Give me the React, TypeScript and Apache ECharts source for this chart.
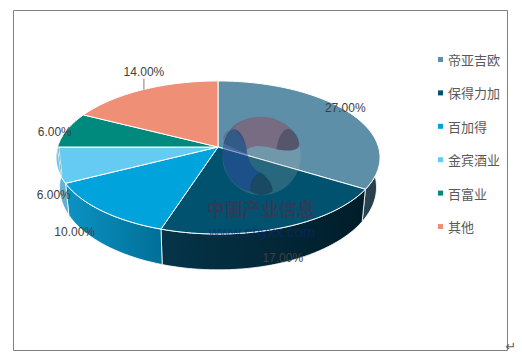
import React, { useEffect, useRef } from "react";
import * as echarts from "echarts";

const categories = ["帝亚吉欧", "保得力加", "百加得", "金宾酒业", "百富业", "其他"];
const shares = [27, 17, 10, 6, 6, 14];
const labels = ["27.00%", "17.00%", "10.00%", "6.00%", "6.00%", "14.00%"];
const topColors = ["#5E8FA8", "#00526F", "#00A3DC", "#66CBF2", "#008A7D", "#EF8F76"];
const sideStops = [
  ["#2C4755", "#263A45"],
  ["#053449", "#001D29"],
  ["#0C93C4", "#006F96"],
  ["#6CB8DC", "#5FA9CC"],
  ["#006A60", "#006A60"],
  ["#B86E5A", "#B86E5A"],
];
const labelOffsets = [
  [-4, -5],
  [1, 30],
  [-27, 21],
  [-3, 30],
  [-12, 2],
  [1, -18],
];

const total = shares.reduce((a, b) => a + b, 0);
const K = 0.137;
const CX = 218;
function topPoint(deg: number, t = 1) {
  const r = (deg * Math.PI) / 180;
  const u = Math.sin(r) * t;
  const v = Math.cos(r) * t;
  const w = 1 + K * v;
  return [CX + (160.5 * u) / w, 147 - (75.1 * v) / w];
}
function bottomPoint(deg: number) {
  const r = (deg * Math.PI) / 180;
  const u = Math.sin(r);
  const v = Math.cos(r);
  const w = 1 + K * v;
  return [CX + (157 * u) / w, 176 - (81 * v) / w];
}
function arc(fn: (d: number) => number[], a: number, b: number) {
  const pts: number[][] = [];
  const n = Math.max(2, Math.ceil((b - a) / 2));
  for (let i = 0; i <= n; i++) pts.push(fn(a + ((b - a) * i) / n));
  return pts;
}

const LOGO_CIRCLE = "M215 20 A118 118 0 1 1 214.9 20Z";
const LOGO_ARC =
  "M100 90 C120 40 170 20 215 20 C270 20 320 60 328 100 C330 120 300 125 260 118 C230 110 190 100 170 120 C165 90 140 55 125 58 C110 62 100 75 100 90Z";
const LOGO_BLUE =
  "M97 130 C100 90 115 58 130 58 C155 58 170 100 172 130 C178 165 195 180 212 188 C190 200 180 225 182 245 C130 235 100 190 97 130Z";
const LOGO_LOBE_L = "M100 100 C105 75 118 58 130 58 C150 58 168 95 170 130 C150 125 120 110 100 100Z";
const LOGO_LOBE_R = "M260 118 C262 85 280 55 295 56 C315 60 328 85 328 105 C325 125 290 125 260 118Z";
const LOGO_LOBE_B = "M182 245 C178 215 195 195 212 188 C232 200 250 225 248 245 C225 260 205 258 182 245Z";
echarts.graphic.registerShape("logoCircle", echarts.graphic.extendPath(LOGO_CIRCLE, {}));
echarts.graphic.registerShape("logoArc", echarts.graphic.extendPath(LOGO_ARC, {}));
echarts.graphic.registerShape("logoBlue", echarts.graphic.extendPath(LOGO_BLUE, {}));
echarts.graphic.registerShape("logoLobeL", echarts.graphic.extendPath(LOGO_LOBE_L, {}));
echarts.graphic.registerShape("logoLobeR", echarts.graphic.extendPath(LOGO_LOBE_R, {}));
echarts.graphic.registerShape("logoLobeB", echarts.graphic.extendPath(LOGO_LOBE_B, {}));

function logoPiece(type: string, fill: string) {
  return { type, x: 190, y: 110, scaleX: 1 / 3, scaleY: 1 / 3, z: 50, silent: true, style: { fill } };
}

function sliceRender(index: number) {
  return (_params: any, api: any) => {
    const value = api.value(0);
    let before = 0;
    for (let i = 0; i < index; i++) before += shares[i];
    const a0 = (before / total) * 360;
    const a1 = a0 + (value / total) * 360;
    const mid = (a0 + a1) / 2;
    const children: any[] = [];
    const sa = Math.max(a0, 88);
    const sb = Math.min(a1, 272);
    if (sb > sa) {
      const poly = [...arc(topPoint, sa, sb), ...arc(bottomPoint, sa, sb).reverse()];
      children.push({
        type: "polygon",
        shape: { points: poly },
        style: {
          fill: new echarts.graphic.LinearGradient(0, 0, 1, 0, [
            { offset: 0, color: sideStops[index][0] },
            { offset: 1, color: sideStops[index][1] },
          ]),
          stroke: "rgba(255,255,255,0.8)",
          lineWidth: 1,
        },
      });
    }
    children.push({
      type: "polygon",
      shape: { points: [topPoint(a0, 0), ...arc(topPoint, a0, a1)] },
      style: { fill: topColors[index], stroke: "#ffffff", lineWidth: 1 },
    });
    const rim = topPoint(mid);
    const lx = rim[0] + labelOffsets[index][0];
    const ly = rim[1] + labelOffsets[index][1];
    if (index === 5) {
      children.push({
        type: "line",
        shape: { x1: lx, y1: ly + 7, x2: lx, y2: rim[1] },
        style: { stroke: "#808080", lineWidth: 1 },
      });
    }
    children.push({
      type: "text",
      x: lx,
      y: ly,
      z2: 10,
      style: {
        text: labels[index],
        fill: "#404040",
        font: '12px "Liberation Sans", Arial, sans-serif',
        align: "center",
        verticalAlign: "middle",
      },
    });
    return { type: "group", children };
  };
}

export default function App() {
  const ref = useRef<HTMLDivElement>(null);
  useEffect(() => {
    document.body.style.margin = "0";
    const chart = echarts.init(ref.current!, undefined, { renderer: "svg" });
    chart.setOption({
      animation: false,
      backgroundColor: "#ffffff",
      legend: {
        orient: "vertical",
        left: 433,
        top: 48,
        itemWidth: 5,
        itemHeight: 5,
        itemGap: 20.4,
        icon: "rect",
        data: categories,
        selectedMode: false,
        textStyle: { color: "#595959", fontSize: 13, fontFamily: '"Noto Sans CJK SC", sans-serif' },
      },
      series: categories.map((name, i) => ({
        type: "custom",
        name,
        coordinateSystem: "none",
        itemStyle: { color: topColors[i] },
        data: [[shares[i]]],
        renderItem: sliceRender(i),
        silent: true,
      })),
      graphic: [
        { type: "rect", z: 1, shape: { x: 13.5, y: 10.5, width: 494, height: 340 }, style: { fill: "none", stroke: "#808080", lineWidth: 1 } },
        logoPiece("logoCircle", "rgba(180,180,180,0.22)"),
        logoPiece("logoArc", "rgba(130,40,60,0.38)"),
        logoPiece("logoBlue", "rgba(10,50,150,0.42)"),
        logoPiece("logoLobeL", "rgba(0,40,60,0.25)"),
        logoPiece("logoLobeR", "rgba(0,30,50,0.28)"),
        logoPiece("logoLobeB", "rgba(0,20,50,0.35)"),
        { type: "text", z: 51, x: 261, y: 208, style: { text: "中国产业信息", fill: "rgba(80,45,75,0.6)", font: 'bold 18px "Noto Sans CJK SC", sans-serif', lineHeight: 18, align: "center", verticalAlign: "middle" } },
        { type: "text", z: 51, x: 262, y: 231, style: { text: "www.chyxx.com", fill: "rgba(15,40,120,0.55)", font: '15px "Liberation Sans", sans-serif', lineHeight: 15, align: "center", verticalAlign: "middle" } },
        { type: "text", z: 51, x: 511, y: 346, style: { text: "↵", fill: "#606060", font: '13px "DejaVu Sans", sans-serif', align: "center", verticalAlign: "middle" } },
      ],
    });
    return () => chart.dispose();
  }, []);
  return <div ref={ref} style={{ position: "fixed", left: 0, top: 0, width: 522, height: 353 }} />;
}
